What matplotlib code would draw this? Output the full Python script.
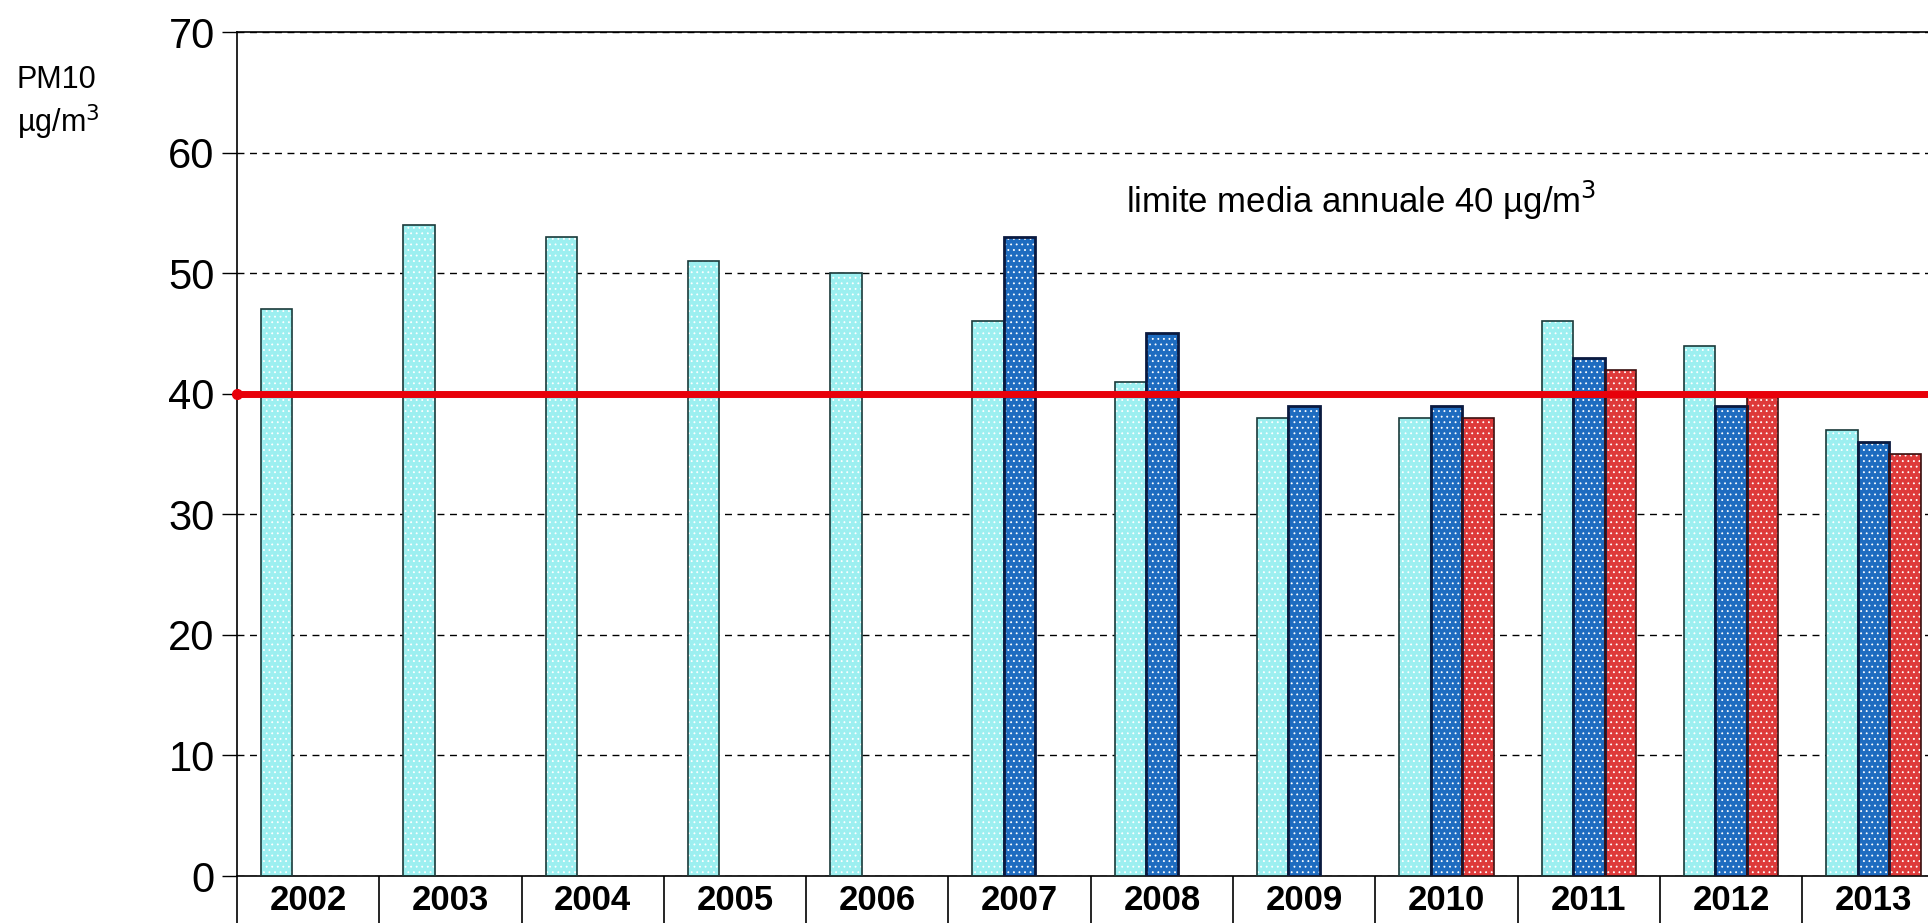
import matplotlib
matplotlib.use("Agg")
import matplotlib.pyplot as plt
import numpy as np

plt.rcParams['font.family'] = ['Liberation Sans', 'DejaVu Sans']
plt.rcParams['hatch.linewidth'] = 0.6

years = ['2002', '2003', '2004', '2005', '2006', '2007',
         '2008', '2009', '2010', '2011', '2012', '2013']
# three series (nan = no bar for that year)
serie_a = [47, 54, 53, 51, 50, 46, 41, 38, 38, 46, 44, 37]
serie_b = [np.nan] * 5 + [53, 45, 39, 39, 43, 39, 36]
serie_c = [np.nan] * 8 + [38, 42, 40, 35]
limite = 40

fig = plt.figure(figsize=(19.28, 9.23), dpi=100)
ax = fig.add_axes([0.1229, 0.0509, 0.8857, 0.9144])

x = np.arange(len(years))
w = 0.221
styles = [(serie_a, '#9CEFF0', '#1a3a3a', 1.2),
          (serie_b, '#1E6CC0', '#0a1a40', 2.0),
          (serie_c, '#DE3A3A', '#3a1010', 1.2)]
for i, (vals, fc, ec, lw) in enumerate(styles):
    pos = x + (i - 1) * w
    ax.bar(pos, vals, width=w, color=fc, edgecolor='white', hatch='...',
           linewidth=0, zorder=2)
    ax.bar(pos, vals, width=w, fill=False, edgecolor=ec, linewidth=lw, zorder=3)

# limit line
ax.axhline(limite, color='#E8000A', lw=5, zorder=4)
ax.plot([-0.5], [limite], 'o', color='#E8000A', ms=7, clip_on=False, zorder=5)
ax.text(5.75, 55.0, 'limite media annuale 40 µg/m$^3$', fontsize=25,
        ha='left', va='baseline')

ax.set_xlim(-0.5, len(years) - 0.5)
ax.set_ylim(0, 70)
ax.set_yticks(np.arange(0, 71, 10))
ax.yaxis.grid(True, linestyle=(0, (5, 4)), color='black', lw=1, zorder=1)
ax.set_axisbelow(True)
ax.tick_params(axis='y', labelsize=30, length=11, width=1, pad=5, direction='out')

ax.set_xticks(x)
ax.set_xticklabels(years, fontsize=25, fontweight='bold')
ax.set_xticks(np.arange(-0.5, len(years)), minor=True)
ax.tick_params(axis='x', which='major', length=0, pad=6)
ax.tick_params(axis='x', which='minor', length=40, width=1.2, direction='out')

for s in ax.spines.values():
    s.set_linewidth(1.2)
ax.spines['right'].set_visible(False)

fig.text(0.0088, 1 - 88 / 923, 'PM10', fontsize=22, ha='left', va='baseline')
fig.text(0.0088, 1 - 132 / 923, 'µg/m$^3$', fontsize=22, ha='left', va='baseline')

fig.savefig('out.png', dpi=100)
